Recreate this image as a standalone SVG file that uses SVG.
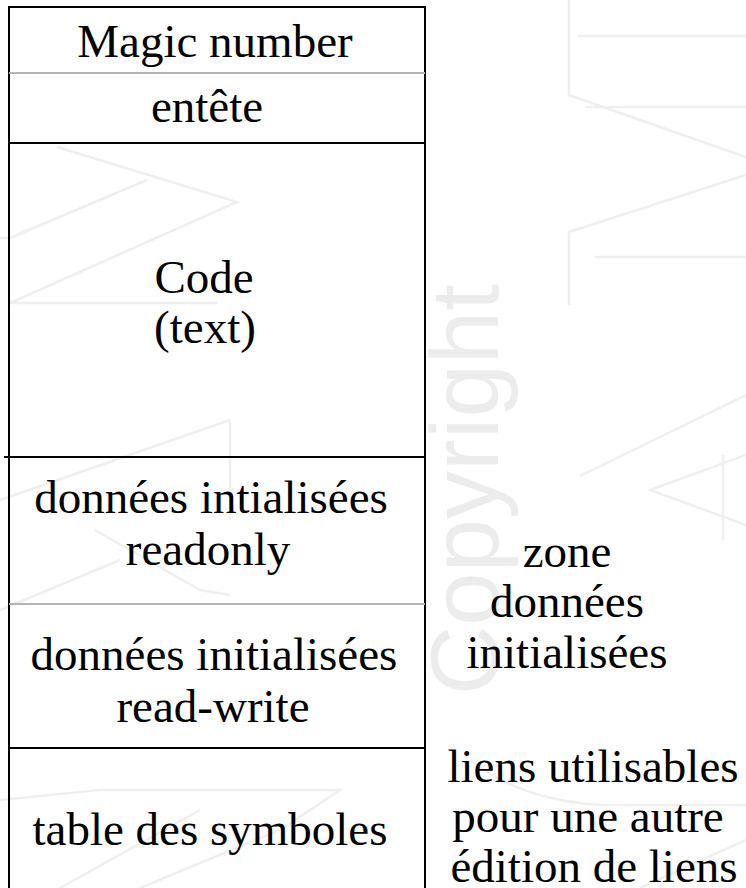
<svg xmlns="http://www.w3.org/2000/svg" width="746" height="888" viewBox="0 0 746 888">
  <style>
    .t { font-family: "Liberation Serif", "Times New Roman", serif; font-size: 47px; fill: #000; text-anchor: middle; }
    .frame { fill: none; stroke: #000; stroke-width: 2; }
    .sep { stroke: #000; stroke-width: 2; }
    .sep-light { stroke: #b4b4b4; stroke-width: 2; }
    .wm { fill: none; stroke: #efefef; stroke-width: 2.5; }
    .wmtext { font-family: "Liberation Sans", Arial, sans-serif; font-size: 96px; fill: #ececec; }
  </style>
  <rect width="746" height="888" fill="#ffffff"/>

  <g id="watermark">
    <path class="wm" d="M569,0 V95 L746,157 M578,36 H746 M585,107 H746 M746,175 L569,232 V305 M595,257 H746"/>
    <path class="wm" d="M746,395 L580,476 M746,455 L650,490 L746,525 M723,455 V540"/>
    <path class="wm" d="M57,147 L237,202 L10,303 M147,180 L10,238 H0 M10,303 H217"/>
    <path class="wm" d="M0,500 L230,420 M95,530 L200,590 L230,595 M230,420 V520 M0,610 L120,560"/>
    <path class="wm" d="M0,800 L100,790 H340 L280,830 L140,888 M60,888 L200,810"/>
    <path class="wm" d="M470,760 Q520,800 600,805 H746 M640,888 L746,840"/>
    <text class="wmtext" transform="translate(498,695) rotate(-90)">Copyright</text>
  </g>

  <g id="memory-layout">
    <path class="frame" d="M9,888 V7 H425 V888"/>
  </g>

  <g id="node-magic">
    <text class="t" x="215" y="57">Magic number</text>
  </g>
  <g id="node-entete">
    <line class="sep-light" x1="9" y1="73" x2="425" y2="73"/>
    <text class="t" x="207" y="122">entête</text>
  </g>
  <g id="node-code">
    <line class="sep" x1="9" y1="143" x2="425" y2="143"/>
    <text class="t" x="204" y="293">Code</text>
    <text class="t" x="205" y="343">(text)</text>
  </g>
  <g id="node-ro">
    <line class="sep" x1="4" y1="457" x2="425" y2="457"/>
    <text class="t" x="211" y="513">données intialisées</text>
    <text class="t" x="208" y="565">readonly</text>
  </g>
  <g id="node-rw">
    <line class="sep-light" x1="9" y1="604" x2="425" y2="604"/>
    <text class="t" x="214" y="670">données initialisées</text>
    <text class="t" x="213" y="722">read-write</text>
  </g>
  <g id="node-symtab">
    <line class="sep" x1="9" y1="748" x2="425" y2="748"/>
    <text class="t" x="210" y="845">table des symboles</text>
  </g>

  <g id="label-zone">
    <text class="t" x="567" y="567">zone</text>
    <text class="t" x="567" y="617">données</text>
    <text class="t" x="567" y="668">initialisées</text>
  </g>
  <g id="label-liens">
    <text class="t" x="593" y="782">liens utilisables</text>
    <text class="t" x="588" y="832">pour une autre</text>
    <text class="t" x="594" y="882">édition de liens</text>
  </g>

  <g id="connectors"></g>
</svg>
